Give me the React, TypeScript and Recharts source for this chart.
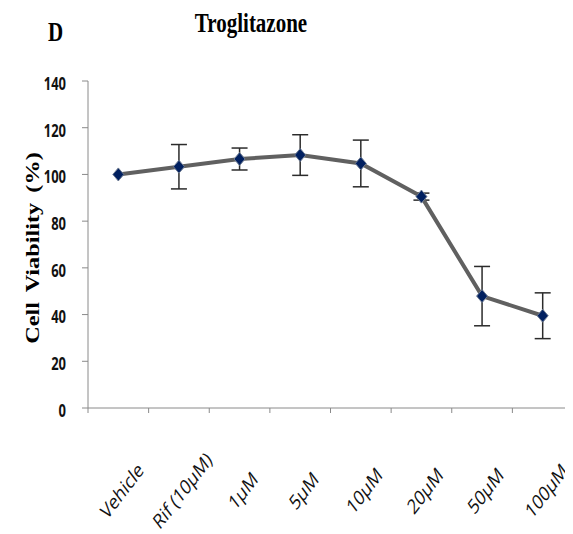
import React from 'react';
import { ComposedChart, Line, XAxis, YAxis, ErrorBar } from 'recharts';

// cell viability (%) after troglitazone treatment, mean and SD
const treatments = ['Vehicle', 'Rif (10µM)', '1µM', '5µM', '10µM', '20µM', '50µM', '100µM'];
const viability = [100, 103.3, 106.6, 108.3, 104.7, 90.5, 47.9, 39.5];
const viabilityErr = [0, 9.5, 4.7, 8.7, 10, 1.5, 12.7, 9.8];
const yTicks = [0, 20, 40, 60, 80, 100, 120, 140];

const data = treatments.map((name, i) => ({ name, value: viability[i], err: viabilityErr[i] }));

const W = 565;
const H = 526;
const margin = { top: 73, right: 0, left: 0, bottom: 6 };
const Y_AXIS_W = 80;
const X_AXIS_H = 120;
const band = (W - Y_AXIS_W - margin.left - margin.right) / treatments.length;

const AXIS = '#8a8a8a';
const SERIF = '"Liberation Serif", "Times New Roman", serif';
const SANS = '"Open Sans", sans-serif';

// Excel-style category axis: ticks sit between categories, labels slanted
function XTick(props: any) {
  const { x, y, payload } = props;
  const left = x - band / 2;
  return (
    <g>
      <line x1={left} y1={y} x2={left} y2={y + 5} stroke={AXIS} strokeWidth={1} />
      <text
        transform={`translate(${x + 3},${y + 82}) scale(1,1.3) rotate(-45)`}
        textAnchor="middle"
        dominantBaseline="central"
        fontFamily={SANS}
        fontSize={16}
        fill="#111"
      >
        {payload.value}
      </text>
    </g>
  );
}

function YTick(props: any) {
  const { x, y, payload } = props;
  return (
    <text
      transform={`translate(${x},${y + 2}) scale(1,1.35)`}
      textAnchor="end"
      dominantBaseline="central"
      fontFamily={SANS}
      fontWeight={700}
      fontSize={13}
      fill="#111"
    >
      {payload.value}
    </text>
  );
}

function Diamond(props: any) {
  const { cx, cy, index } = props;
  if (cx == null || cy == null) return null;
  return (
    <polygon
      key={`d-${index}`}
      points={`${cx},${cy - 6.5} ${cx + 5.5},${cy} ${cx},${cy + 6.5} ${cx - 5.5},${cy}`}
      fill="#012060"
      stroke="#6f7c92"
      strokeWidth={1}
    />
  );
}

export default function App() {
  return (
    <div style={{ position: 'relative', width: W, height: H, background: '#fff' }}>
      <ComposedChart width={W} height={H} data={data} margin={margin}>
        <XAxis
          dataKey="name"
          scale="band"
          height={X_AXIS_H}
          stroke={AXIS}
          tickLine={false}
          tickSize={0}
          tickMargin={0}
          interval={0}
          tick={<XTick />}
        />
        <YAxis
          width={Y_AXIS_W}
          domain={[0, 140]}
          ticks={yTicks}
          interval={0}
          stroke={AXIS}
          tickSize={6}
          tickMargin={16}
          tick={<YTick />}
        />
        <Line
          dataKey="value"
          stroke="#606060"
          strokeWidth={4}
          dot={<Diamond />}
          activeDot={false}
          isAnimationActive={false}
        >
          <ErrorBar dataKey="err" width={8} stroke="#2b2b2b" strokeWidth={1.5} direction="y" />
        </Line>
      </ComposedChart>
      <svg
        width={W}
        height={H}
        style={{ position: 'absolute', left: 0, top: 0, pointerEvents: 'none' }}
      >
        <text
          transform="translate(243,24) scale(1,1.3)"
          textAnchor="middle"
          fontFamily={SERIF}
          fontWeight={700}
          fontSize={21}
          fill="#000"
        >
          Troglitazone
        </text>
        <text
          transform="translate(40,33) scale(1,1.3)"
          fontFamily={SERIF}
          fontWeight={700}
          fontSize={21}
          fill="#000"
        >
          D
        </text>
        <text
          transform="translate(25,240) scale(1,1.35) rotate(-90)"
          textAnchor="middle"
          dominantBaseline="central"
          fontFamily={SERIF}
          fontWeight={700}
          fontSize={18}
          fill="#000"
          style={{ wordSpacing: 3 }}
        >
          Cell Viability (%)
        </text>
      </svg>
    </div>
  );
}
